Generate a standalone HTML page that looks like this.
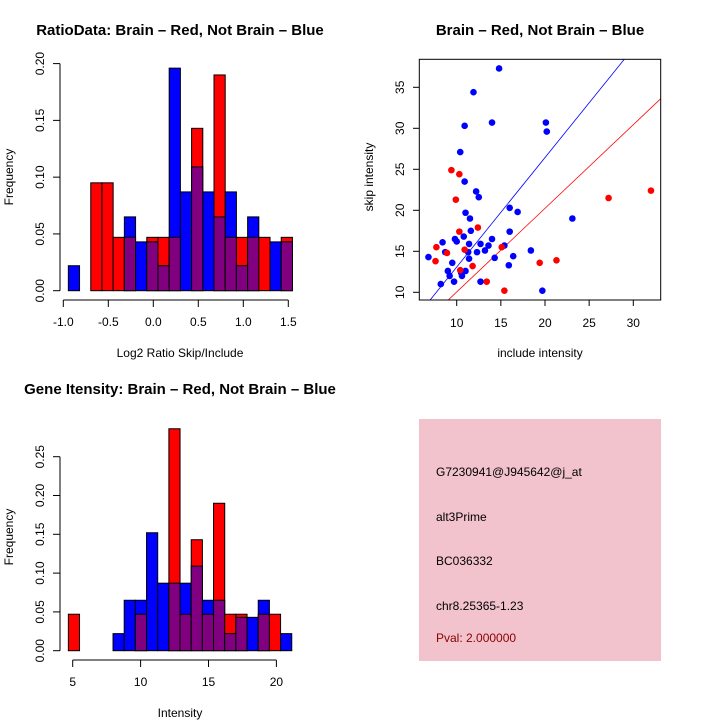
<!DOCTYPE html>
<html><head><meta charset="utf-8"><style>
body{margin:0;background:#fff;}
svg{display:block;font-family:"Liberation Sans",sans-serif;}
</style></head><body>
<svg id="s" width="720" height="720" xmlns="http://www.w3.org/2000/svg">
<rect x="419" y="419" width="242" height="242" fill="#f2c3cd"/>
<text x="436" y="476" font-size="12" fill="#000">G7230941@J945642@j_at</text>
<text x="436" y="521" font-size="12" fill="#000">alt3Prime</text>
<text x="436" y="565" font-size="12" fill="#000">BC036332</text>
<text x="436" y="610" font-size="12" fill="#000">chr8.25365-1.23</text>
<text x="436" y="642" font-size="12" fill="#8b0000">Pval: 2.000000</text>
</svg>
<script>
// Ratio histogram
const ratioRed  = [0,0,.095,.095,.047,.047,0,.047,.047,.047,0,.143,0,.190,.047,.047,.047,.047,0,.047];
const ratioBlue = [.022,0,0,0,0,.065,.043,.043,.022,.196,.087,.109,.087,.065,.087,.022,.065,0,.043,.043];
const ratioXTicks = [-1.0,-0.5,0.0,0.5,1.0,1.5];
const ratioYTicks = [0,0.05,0.10,0.15,0.20];
// Intensity histogram
const intRed  = [.047,0,0,0,0,0,.047,0,0,.286,.047,.143,.047,.190,.047,.047,0,.047,.047,0];
const intBlue = [0,0,0,0,.022,.065,.065,.152,.087,.087,.087,.109,.065,.065,.022,.043,.043,.065,0,.022];
const intXTicks = [5,10,15,20];
const intYTicks = [0,0.05,0.10,0.15,0.20,0.25];
// Scatter
const blueX=[6.8,14.8,11.9,10.9,14.0,20.1,20.2,10.4,10.9,12.2,12.5,11.0,11.5,16.0,16.9,23.1,11.6,16.0,8.4,9.8,10.0,10.8,12.7,14.0,11.4,8.7,11.3,12.3,13.2,13.6,15.4,11.4,14.3,16.4,18.4,9.5,15.9,9.0,10.5,11.0,9.2,10.6,9.7,12.7,8.2,19.7];
const blueY=[14.3,37.3,34.4,30.3,30.7,30.7,29.6,27.1,23.5,22.3,21.6,19.7,19.0,20.3,19.8,19.0,17.5,17.4,16.1,16.5,16.2,16.8,15.9,16.5,15.9,14.9,14.9,14.9,15.1,15.7,15.7,14.1,14.2,14.4,15.1,13.6,13.3,12.6,12.4,12.6,12.0,12.0,11.3,11.3,11.0,10.2];
const redX=[9.4,10.3,9.9,12.4,10.3,7.7,8.9,10.9,7.6,10.4,11.8,13.4,15.4,15.1,19.4,21.3,27.2,32.0];
const redY=[24.9,24.4,21.3,17.9,17.4,15.5,14.8,15.2,13.8,12.7,13.2,11.3,10.2,15.5,13.6,13.9,21.5,22.4];
const scXTicks=[10,15,20,25,30];
const scYTicks=[10,15,20,25,30,35];
const blueLine=[1.335,-0.27];
const redLine=[1.02,-0.16];

const S=document.getElementById('s');
const NS='http://www.w3.org/2000/svg';
function mk(t,a,txt){const e=document.createElementNS(NS,t);for(const k in a)e.setAttribute(k,a[k]);if(txt!==undefined)e.textContent=txt;S.appendChild(e);return e;}

function hist(red,blue,x0,bw,xs,ys,xTicks,yTicks,axY,axX,yMax,pre){
  for(let i=0;i<red.length;i++){
    const a=x0+i*bw, px=xs(a), pw=xs(a+bw)-px;
    const r=red[i], b=blue[i], mx=Math.max(r,b), mn=Math.min(r,b);
    if(mx>0){
      const e=mk('rect',{x:px,y:ys(mx),width:pw,height:ys(0)-ys(mx),fill:r>=b?'#ff0000':'#0000ff',stroke:'#000','stroke-width':1});
      
      
    }
    if(mn>0){
      const e=mk('rect',{x:px,y:ys(mn),width:pw,height:ys(0)-ys(mn),fill:'#800080',stroke:'#000','stroke-width':1});
      
      
    }
  }
  const ya=mk('line',{x1:axX,x2:axX,y1:ys(0),y2:ys(yMax),stroke:'#000'});
  
  
  yTicks.forEach(v=>{
    mk('line',{x1:axX-7,x2:axX,y1:ys(v),y2:ys(v),stroke:'#000'});
    const t=mk('text',{x:0,y:0,'font-size':12,'text-anchor':'middle',transform:`translate(${axX-16},${ys(v)}) rotate(-90)`},v.toFixed(2));
    
    
  });
  const xa=mk('line',{x1:xs(xTicks[0]),x2:xs(xTicks[xTicks.length-1]),y1:axY,y2:axY,stroke:'#000'});
  
  
  xTicks.forEach(v=>{
    mk('line',{x1:xs(v),x2:xs(v),y1:axY,y2:axY+7,stroke:'#000'});
    const t=mk('text',{x:xs(v),y:axY+26,'font-size':12,'text-anchor':'middle'},Number.isInteger(v)&&pre==='int'?String(v):v.toFixed(1));
    
    
  });
}
// top-left
hist(ratioRed,ratioBlue,-0.944,0.1245,v=>63.3+(v+1)*90,v=>290.7-v*1135.5,ratioXTicks,ratioYTicks,300,60,0.20,'ratio');
// bottom-left
hist(intRed,intBlue,4.68,0.8225,v=>72.7+(v-5)*13.58,v=>650.7-v*776,intXTicks,intYTicks,660,60,0.25,'int');

// scatter
const sx=v=>456.7+(v-10)*8.83, sy=v=>292.3-(v-10)*8.2;
const clip=mk('clipPath',{id:'cp'});
const cr=document.createElementNS(NS,'rect');cr.setAttribute('x',419.3);cr.setAttribute('y',59.3);cr.setAttribute('width',241.4);cr.setAttribute('height',240.7);clip.appendChild(cr);
[[blueLine,'#0000ff','blue-fit-line'],[redLine,'#ff0000','red-fit-line']].forEach(([L,c,n])=>{
  const e=mk('line',{x1:sx(0),y1:sy(L[1]),x2:sx(40),y2:sy(L[0]*40+L[1]),stroke:c,'stroke-width':0.8,'clip-path':'url(#cp)'});
  
  
});
blueX.forEach((v,i)=>{
  const e=mk('circle',{cx:sx(v),cy:sy(blueY[i]),r:3.3,fill:'#0000ff'});
  
  
});
redX.forEach((v,i)=>{
  const e=mk('circle',{cx:sx(v),cy:sy(redY[i]),r:3.3,fill:'#ff0000'});
  
  
});
const box=mk('rect',{x:419.3,y:59.3,width:241.4,height:240.7,fill:'none',stroke:'#000'});


scXTicks.forEach(v=>{
  mk('line',{x1:sx(v),x2:sx(v),y1:300,y2:306,stroke:'#000'});
  const t=mk('text',{x:sx(v),y:327,'font-size':12,'text-anchor':'middle'},String(v));
  
  
});
scYTicks.forEach(v=>{
  mk('line',{x1:413,x2:419.3,y1:sy(v),y2:sy(v),stroke:'#000'});
  const t=mk('text',{x:0,y:0,'font-size':12,'text-anchor':'middle',transform:`translate(404,${sy(v)}) rotate(-90)`},String(v));
  
  
});

// titles & labels
function lbl(x,y,txt,size,bold,rot,name){
  const e=mk('text',{x:0,y:0,'font-size':size,'font-weight':bold?'bold':'normal','text-anchor':'middle',transform:`translate(${x},${y})`+(rot?' rotate(-90)':'')},txt);
  
  
}
lbl(180,35,'RatioData: Brain – Red, Not Brain – Blue',15,true,false,'ratio-title');
lbl(540,35,'Brain – Red, Not Brain – Blue',15,true,false,'scatter-title');
lbl(180,394,'Gene Itensity: Brain – Red, Not Brain – Blue',15,true,false,'intensity-title');
lbl(180,357,'Log2 Ratio Skip/Include',12,false,false,'ratio-x-label');
lbl(540,357,'include intensity',12,false,false,'scatter-x-label');
lbl(180,717,'Intensity',12,false,false,'intensity-x-label');
lbl(13,177,'Frequency',12,false,true,'ratio-y-label');
lbl(13,537,'Frequency',12,false,true,'intensity-y-label');
lbl(373,177,'skip intensity',12,false,true,'scatter-y-label');
</script>
</body></html>
